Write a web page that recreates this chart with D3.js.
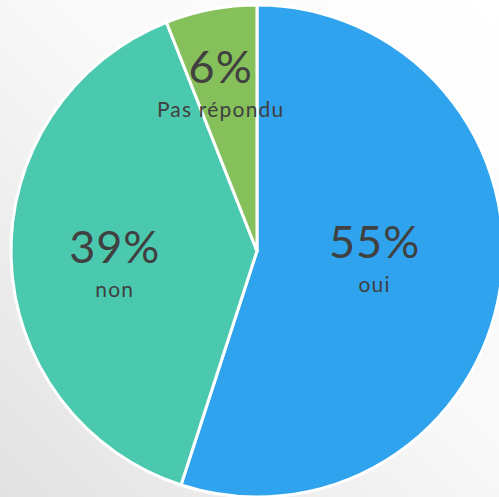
<!DOCTYPE html>
<html>
<head>
<meta charset="utf-8">
<script src="https://cdn.jsdelivr.net/npm/d3@7"></script>
<style>
  html, body { margin: 0; padding: 0; overflow: hidden; }
  svg { display: block; }
</style>
</head>
<body>
<script>
var categories = ['oui', 'non', 'Pas répondu'];
var values = [55, 39, 6];
var percentLabels = ['55%', '39%', '6%'];
var colors = ['#2fa3ee', '#4bc9ae', '#86c05a'];

var width = 499, height = 497;
var cx = 257, cy = 251, radius = 246;

// label placement tweaks (powerpoint best fit is not on the mid ray)
var labelNudge = { 'oui': [-16, -14], 'non': [-7, 8], 'Pas répondu': [-11, -35] };

var svg = d3.select('body').append('svg')
  .attr('width', width)
  .attr('height', height);

var defs = svg.append('defs');
var grad = defs.append('linearGradient')
  .attr('id', 'bg')
  .attr('x1', '100%').attr('y1', '0%')
  .attr('x2', '0%').attr('y2', '100%');
grad.append('stop').attr('offset', '0%').attr('stop-color', '#ffffff');
grad.append('stop').attr('offset', '45%').attr('stop-color', '#f9f9f9');
grad.append('stop').attr('offset', '100%').attr('stop-color', '#e2e2e2');

svg.append('rect')
  .attr('width', width)
  .attr('height', height)
  .attr('fill', 'url(#bg)');

var data = categories.map(function(c, i) {
  return { name: c, value: values[i], pct: percentLabels[i], color: colors[i] };
});

var pie = d3.pie()
  .sort(null)
  .value(function(d) { return d.value; });

var arc = d3.arc().innerRadius(0).outerRadius(radius);
var labelArc = d3.arc().innerRadius(radius * 0.55).outerRadius(radius * 0.55);

var g = svg.append('g').attr('transform', 'translate(' + cx + ',' + cy + ')');

g.selectAll('path.slice').data(pie(data))
  .enter()
  .append('path')
  .attr('class', 'slice')
  .attr('d', arc)
  .attr('fill', function(d) { return d.data.color; })
  .attr('stroke', '#ffffff')
  .attr('stroke-width', 3)
  .attr('stroke-linejoin', 'round');

var labels = g.selectAll('g.label').data(pie(data))
  .enter()
  .append('g')
  .attr('class', 'label')
  .attr('transform', function(d) {
    var c = labelArc.centroid(d);
    var n = labelNudge[d.data.name];
    return 'translate(' + (c[0] + n[0]) + ',' + (c[1] + n[1]) + ')';
  });

labels.append('text')
  .attr('text-anchor', 'middle')
  .attr('font-family', 'Lato, sans-serif')
  .attr('font-size', '45px')
  .attr('letter-spacing', '1px')
  .attr('fill', '#404040')
  .text(function(d) { return d.data.pct; });

labels.append('text')
  .attr('text-anchor', 'middle')
  .attr('y', 34)
  .attr('font-family', 'Lato, sans-serif')
  .attr('font-size', '21px')
  .attr('letter-spacing', '1.2px')
  .attr('fill', '#404040')
  .text(function(d) { return d.data.name; });
</script>
</body>
</html>
